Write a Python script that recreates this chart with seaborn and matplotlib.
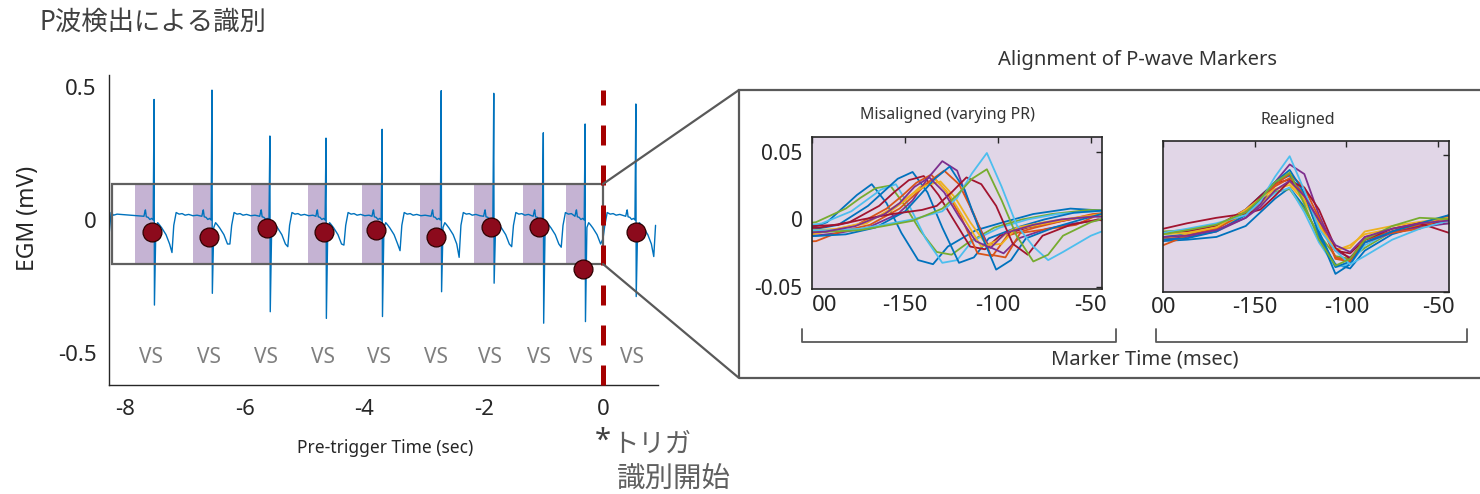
import numpy as np
import pandas as pd
import matplotlib
matplotlib.use("Agg")
import matplotlib.pyplot as plt
import seaborn as sns
from matplotlib.patches import Rectangle, ConnectionPatch
from matplotlib.lines import Line2D

# ---------------- data: EGM strip (left) ----------------
SPIKE_T = [-7.52, -6.55, -5.58, -4.64, -3.70, -2.71, -1.83, -1.00, -0.30, 0.55]
SPIKE_MAX = [0.452, 0.487, 0.315, 0.307, 0.340, 0.485, 0.475, 0.327, 0.360, 0.435]
SPIKE_MIN = [-0.319, -0.275, -0.344, -0.369, -0.362, -0.269, -0.237, -0.387, -0.381, -0.287]
T_WAVE_MIN = [-0.122, -0.090, -0.100, -0.094, -0.115, -0.140, -0.100, -0.102, -0.070, -0.137]
MARKER_T = [-7.55, -6.60, -5.63, -4.67, -3.80, -2.80, -1.88, -1.07, -0.335, 0.55]
MARKER_V = [-0.044, -0.062, -0.031, -0.044, -0.037, -0.062, -0.027, -0.027, -0.184, -0.046]
BAND_START = [-7.84, -6.87, -5.89, -4.95, -4.04, -3.07, -2.16, -1.34, -0.62]
BAND_END = [-7.52, -6.55, -5.58, -4.64, -3.70, -2.71, -1.83, -1.00, -0.30]
VS_T = [-7.57, -6.60, -5.64, -4.69, -3.76, -2.79, -1.89, -1.07, -0.37, 0.49]
VS_LABEL = "VS"
VS_Y = -0.516
# one beat (offset from spike in s, value in mV)
BEAT_PRE_T = [-0.17, -0.155, -0.145, -0.13, -0.10, -0.07, -0.04, -0.015]
BEAT_PRE_V = [0.014, 0.030, 0.038, 0.012, 0.010, 0.002, 0.006, 0.000]
BEAT_POST_T = [0.03, 0.06, 0.09, 0.13, 0.20, 0.26, 0.30, 0.33, 0.37, 0.42, 0.47, 0.52, 0.58, 0.65, 0.72]
BEAT_POST_V = [-0.028, -0.010, -0.018, -0.030, -0.055, -0.090, None, -0.020, 0.028, 0.022, 0.024, 0.018, 0.021, 0.016, 0.018]
LEAD_T = [-8.27, -8.24, -8.20, -8.14]
LEAD_V = [-0.045, 0.028, 0.018, 0.022]
TRACE_END = 0.89
ZOOM_X = (-8.23, 0.0)
ZOOM_Y = (-0.165, 0.135)
TRIGGER_T = 0.0
MAIN_XTICKS = [-8, -6, -4, -2, 0]
MAIN_XTICKLABELS = ["-8", "-6", "-4", "-2", "0"]
MAIN_YTICKS = [-0.5, 0, 0.5]
MAIN_YTICKLABELS = ["-0.5", "0", "0.5"]

# ---------------- data: P-wave markers (right) ----------------
T_MS = [-240, -216, -200, -187, -171, -155, -147, -139, -131, -123, -115, -106, -98, -90, -75, -60, -44, -24, 0]
P_OFFSET = [-37, -27, -24, -15, -9, -5, -3, 1, 2, 0, 5, 14, 25, 25, -6]
P_COLOR = ["#0072BD", "#77AC30", "#4DBEEE", "#0072BD", "#A2142F", "#D95319", "#EDB120",
           "#7E2F8E", "#D95319", "#EDB120", "#0072BD", "#A2142F", "#4DBEEE", "#77AC30", "#7E2F8E"]
P_WAVES = [
    [-0.012, -0.012, -0.013, -0.012, -0.010, -0.002, 0.008, 0.018, 0.026, 0.012, -0.010, -0.030, -0.033, -0.020, -0.008, -0.002, 0.004, 0.008, 0.006],
    [-0.008, -0.007, -0.006, -0.005, -0.002, 0.008, 0.016, 0.023, 0.025, 0.010, -0.008, -0.024, -0.026, -0.018, -0.006, 0.000, 0.004, 0.007, 0.006],
    [-0.010, -0.009, -0.008, -0.006, -0.003, 0.006, 0.014, 0.022, 0.026, 0.008, -0.014, -0.032, -0.030, -0.016, -0.006, 0.000, 0.004, 0.006, 0.005],
    [-0.012, -0.011, -0.010, -0.008, -0.004, 0.010, 0.020, 0.030, 0.035, 0.020, -0.006, -0.032, -0.028, -0.014, -0.006, 0.000, 0.005, 0.007, 0.006],
    [-0.008, -0.008, -0.007, -0.006, -0.002, 0.010, 0.020, 0.029, 0.032, 0.018, 0.000, -0.020, -0.022, -0.012, -0.006, -0.002, 0.002, 0.004, 0.003],
    [-0.012, -0.012, -0.011, -0.009, -0.004, 0.008, 0.017, 0.027, 0.033, 0.021, 0.002, -0.025, -0.027, -0.012, -0.006, -0.001, 0.004, 0.006, 0.005],
    [-0.010, -0.011, -0.012, -0.008, -0.003, 0.006, 0.014, 0.024, 0.030, 0.018, 0.000, -0.020, -0.016, -0.008, -0.004, 0.000, 0.003, 0.005, 0.004],
    [-0.013, -0.012, -0.012, -0.010, -0.006, 0.004, 0.014, 0.030, 0.043, 0.036, 0.006, -0.020, -0.025, -0.014, -0.007, -0.003, 0.000, 0.002, 0.001],
    [-0.018, -0.017, -0.016, -0.009, -0.004, 0.008, 0.018, 0.028, 0.036, 0.026, 0.004, -0.026, -0.028, -0.010, -0.007, -0.004, 0.006, 0.006, 0.005],
    [-0.009, -0.009, -0.008, -0.007, -0.003, 0.010, 0.018, 0.025, 0.028, 0.016, -0.002, -0.019, -0.018, -0.006, -0.002, 0.001, 0.004, 0.005, 0.004],
    [-0.014, -0.013, -0.012, -0.011, -0.006, 0.006, 0.018, 0.030, 0.039, 0.022, -0.008, -0.037, -0.030, -0.014, -0.006, 0.000, 0.006, 0.007, 0.006],
    [-0.006, -0.005, -0.004, 0.000, 0.004, 0.007, 0.010, 0.020, 0.031, 0.026, 0.010, -0.018, -0.026, -0.012, -0.004, 0.000, -0.007, -0.007, -0.005],
    [-0.008, -0.008, -0.007, -0.004, 0.000, 0.006, 0.016, 0.034, 0.049, 0.024, -0.004, -0.020, -0.030, -0.024, -0.012, -0.004, 0.002, 0.004, 0.004],
    [-0.010, -0.009, -0.008, -0.005, -0.001, 0.008, 0.018, 0.030, 0.037, 0.014, -0.012, -0.031, -0.026, -0.012, -0.002, 0.004, 0.003, 0.004, 0.004],
    [-0.011, -0.011, -0.010, -0.009, -0.005, 0.004, 0.012, 0.024, 0.031, 0.020, 0.002, -0.016, -0.021, -0.010, -0.004, 0.000, 0.002, 0.002, -0.002],
]
INSET_XTICKS = [-200, -150, -100, -50]
INSET_XTICKLABELS = ["00", "-150", "-100", "-50"]
INSET_YTICKS = [-0.05, 0, 0.05]
INSET_YTICKLABELS = ["-0.05", "0", "0.05"]

# ---------------- style ----------------
sns.set_theme(style="white")
plt.rcParams["font.family"] = ["Noto Sans", "Noto Sans CJK JP", "DejaVu Sans"]
plt.rcParams["axes.unicode_minus"] = False
DARK = "#262626"
GRAY = "#595959"

W, H = 1480, 494
def fx(px):
    return px / W
def fy(py):
    return 1 - py / H

fig = plt.figure(figsize=(14.8, 4.94), dpi=100)
fig.patch.set_facecolor("white")

# ---------------- main strip ----------------
ax = fig.add_axes([fx(109), fy(385), fx(658) - fx(109), fy(75) - fy(385)])
ax.set_facecolor("white")

tr_t, tr_v = list(LEAD_T), list(LEAD_V)
for i, ts in enumerate(SPIKE_T):
    nxt = SPIKE_T[i + 1] if i + 1 < len(SPIKE_T) else 99.0
    for o, v in zip(BEAT_PRE_T, BEAT_PRE_V):
        tr_t.append(ts + o); tr_v.append(v)
    tr_t.append(ts); tr_v.append(SPIKE_MAX[i])
    tr_t.append(ts + 0.006); tr_v.append(SPIKE_MIN[i])
    for o, v in zip(BEAT_POST_T, BEAT_POST_V):
        if ts + o < nxt + BEAT_PRE_T[0] - 0.02:
            tr_t.append(ts + o); tr_v.append(T_WAVE_MIN[i] if v is None else v)
trace = pd.DataFrame({"t": tr_t, "v": tr_v})
trace = trace[trace["t"] <= TRACE_END]

for b0, b1 in zip(BAND_START, BAND_END):
    ax.fill_between([b0, b1], ZOOM_Y[0], ZOOM_Y[1], color="#C5B3D3", lw=0, zorder=1)

sns.lineplot(data=trace, x="t", y="v", sort=False, estimator=None, color="#0072BD",
             linewidth=1.0, ax=ax, zorder=2)

ax.add_patch(Rectangle((ZOOM_X[0], ZOOM_Y[0]), ZOOM_X[1] - ZOOM_X[0], ZOOM_Y[1] - ZOOM_Y[0],
                       fill=False, ec="#606060", lw=1.6, zorder=3))

sns.scatterplot(x=MARKER_T, y=MARKER_V, s=185, color="#8C0A1C", edgecolor="#2E0000",
                linewidth=0.9, ax=ax, zorder=6, legend=False)

for t in VS_T:
    ax.text(t, VS_Y, VS_LABEL, ha="center", va="center", fontsize=15, color="#7F7F7F", zorder=4)

ax.set_xlim(-8.275, 0.921)
ax.set_ylim(-0.6187, 0.5437)
ax.plot([TRIGGER_T, TRIGGER_T], [-0.6187, 0.487], color="#A50000", lw=3.6,
        dashes=(4, 4), zorder=7, clip_on=False)

for s in ["top", "right"]:
    ax.spines[s].set_visible(False)
for s in ["left", "bottom"]:
    ax.spines[s].set_color(DARK)
    ax.spines[s].set_linewidth(1.0)
ax.set_xticks(MAIN_XTICKS)
ax.set_xticklabels(MAIN_XTICKLABELS)
ax.set_yticks(MAIN_YTICKS)
ax.set_yticklabels(MAIN_YTICKLABELS)
ax.tick_params(axis="x", direction="in", length=6, width=1, colors=DARK, labelsize=16, pad=10)
ax.tick_params(axis="y", direction="in", length=4.5, width=1, colors=DARK, labelsize=16, pad=9)
ax.set_xlabel(""); ax.set_ylabel("")
ax.grid(False)

fig.text(fx(385), fy(448), "Pre-trigger Time (sec)", ha="center", va="center", fontsize=12.5, color=DARK)
fig.text(fx(28), fy(218), "EGM (mV)", ha="center", va="center", rotation=90, fontsize=16.5, color=DARK)
fig.text(fx(40), fy(23), "P波検出による識別", ha="left", va="center", fontsize=19, color="#404040")
fig.text(fx(603), fy(441), "*", ha="center", va="center", fontsize=21, color="#404040")
fig.text(fx(612), fy(445), "トリガ", ha="left", va="center", fontsize=19, color="#606060")
fig.text(fx(617), fy(480), "識別開始", ha="left", va="center", fontsize=20.5, color="#606060")

# ---------------- zoom box & connectors ----------------
bx0, by0, by1 = fx(739), fy(378), fy(90)
fig.add_artist(Rectangle((bx0, by0), 0.6, by1 - by0, transform=fig.transFigure,
                         fill=False, ec=GRAY, lw=1.6))
for yy, fyy in [(ZOOM_Y[1], by1), (ZOOM_Y[0], by0)]:
    con = ConnectionPatch(xyA=(ZOOM_X[1], yy), coordsA=ax.transData,
                          xyB=(bx0, fyy), coordsB=fig.transFigure, color=GRAY, lw=1.6)
    fig.add_artist(con)

fig.text(fx(1137), fy(60), "Alignment of P-wave Markers", ha="center", va="center", fontsize=14.5, color="#333333")
fig.text(fx(948), fy(115), "Misaligned (varying PR)", ha="center", va="center", fontsize=11.5, color="#333333")
fig.text(fx(1298), fy(120), "Realigned", ha="center", va="center", fontsize=11.5, color="#333333")
fig.text(fx(1145), fy(360), "Marker Time (msec)", ha="center", va="center", fontsize=14.5, color="#333333")

# brackets
for xa, xb in [(802, 1116), (1156, 1467)]:
    fig.add_artist(Line2D([fx(xa), fx(xa), fx(xb), fx(xb)], [fy(329), fy(342), fy(342), fy(329)],
                          transform=fig.transFigure, color=GRAY, lw=1.3))

# ---------------- insets ----------------
rows = []
for k, (wave, off) in enumerate(zip(P_WAVES, P_OFFSET)):
    for t, v in zip(T_MS, wave):
        rows.append({"line": k, "t": t, "t_mis": t + off, "v": v})
pw = pd.DataFrame(rows)
pal = {k: c for k, c in enumerate(P_COLOR)}

def style_inset(a, ylim, ylabels, first_ha):
    a.set_facecolor("#E1D6E7")
    a.set_xlim(-200, -44)
    a.set_ylim(*ylim)
    a.set_xticks(INSET_XTICKS)
    a.set_xticklabels(INSET_XTICKLABELS)
    a.get_xticklabels()[0].set_ha(first_ha)
    a.set_yticks(INSET_YTICKS)
    if ylabels:
        a.set_yticklabels(INSET_YTICKLABELS)
    else:
        a.set_yticklabels([])
    a.tick_params(axis="both", direction="in", top=True, right=True, length=4, width=1, colors=DARK)
    a.tick_params(axis="x", labelsize=16, pad=4)
    a.tick_params(axis="y", labelsize=15, pad=7)
    for s in a.spines.values():
        s.set_color(DARK); s.set_linewidth(1.2); s.set_visible(True)
    a.set_xlabel(""); a.set_ylabel("")
    a.grid(False)

ax1 = fig.add_axes([fx(812.3), fy(289), fx(1102) - fx(812.3), fy(137) - fy(289)])
sns.lineplot(data=pw, x="t_mis", y="v", hue="line", palette=pal, estimator=None,
             linewidth=1.3, legend=False, ax=ax1)
style_inset(ax1, (-0.0513, 0.0608), True, "left")

ax2 = fig.add_axes([fx(1163.3), fy(291.7), fx(1449) - fx(1163.3), fy(141.3) - fy(291.7)])
sns.lineplot(data=pw, x="t", y="v", hue="line", palette=pal, estimator=None,
             linewidth=1.3, legend=False, ax=ax2)
style_inset(ax2, (-0.0486, 0.0599), False, "center")

fig.savefig("out.png", dpi=100)
